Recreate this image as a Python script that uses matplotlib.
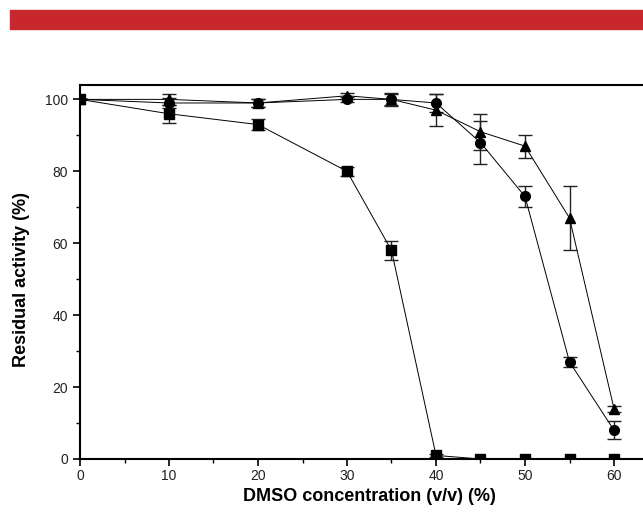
import numpy as np
import matplotlib
matplotlib.use('Agg')
from matplotlib import pyplot as plt
from matplotlib.patches import Rectangle

plt.rcParams['font.family'] = ['Liberation Sans', 'DejaVu Sans']

# DMSO concentration (v/v %)
conc = [0, 10, 20, 30, 35, 40, 45, 50, 55, 60]

# residual activity (%) and error bars
sq = [100, 96, 93, 80, 58, 1, 0, 0, 0, 0]
sq_err = [0, 2.5, 1.5, 1.2, 2.6, 0.5, 0, 0, 0, 0]

circ = [100, 99, 99, 100, 100, 99, 88, 73, 27, 8]
circ_err = [0, 1.5, 1, 0.8, 1.8, 2.5, 6, 3, 1.3, 2.5]

tri = [100, 100, 99, 101, 100, 97, 91, 87, 67, 14]
tri_err = [0, 1.5, 1, 0.8, 1.5, 4.5, 5, 3.2, 9, 0.8]

fig = plt.figure(figsize=(6.43, 5.19), dpi=100)

# red banner on top
fig.patches.append(Rectangle((10/643, 490/519), 1, 19/519, transform=fig.transFigure,
                             color='#c8272e', zorder=0))

ax = fig.add_axes([80/643, 60/519, 578.5/643, 374/519])

kw = dict(color='black', lw=0.7, ecolor='#222222', elinewidth=1.0, capsize=5, capthick=1.0)
ax.errorbar(conc, sq, yerr=sq_err, marker='s', ms=6.5, **kw)
ax.errorbar(conc, circ, yerr=circ_err, marker='o', ms=7, **kw)
ax.errorbar(conc, tri, yerr=tri_err, marker='^', ms=7.5, **kw)

ax.set_xlim(0, 65)
ax.set_ylim(0, 104)
ax.set_xticks(np.arange(0, 61, 10))
ax.set_xticks(np.arange(5, 61, 10), minor=True)
ax.set_yticks(np.arange(0, 101, 20))
ax.set_yticks(np.arange(10, 101, 20), minor=True)
ax.tick_params(which='major', direction='out', length=5, width=1.2, labelsize=10,
               colors='black', labelcolor='#222222')
ax.tick_params(axis='x', which='major', pad=2)
ax.tick_params(which='minor', direction='out', length=3, width=1.0)
for s in ax.spines.values():
    s.set_linewidth(1.5)

ax.set_xlabel('DMSO concentration (v/v) (%)', fontsize=13, fontweight='bold', labelpad=4)
ax.set_ylabel('Residual activity (%)', fontsize=13, fontweight='bold')
ax.yaxis.set_label_coords(-0.087, 0.479)

fig.savefig('out.png', dpi=100)
